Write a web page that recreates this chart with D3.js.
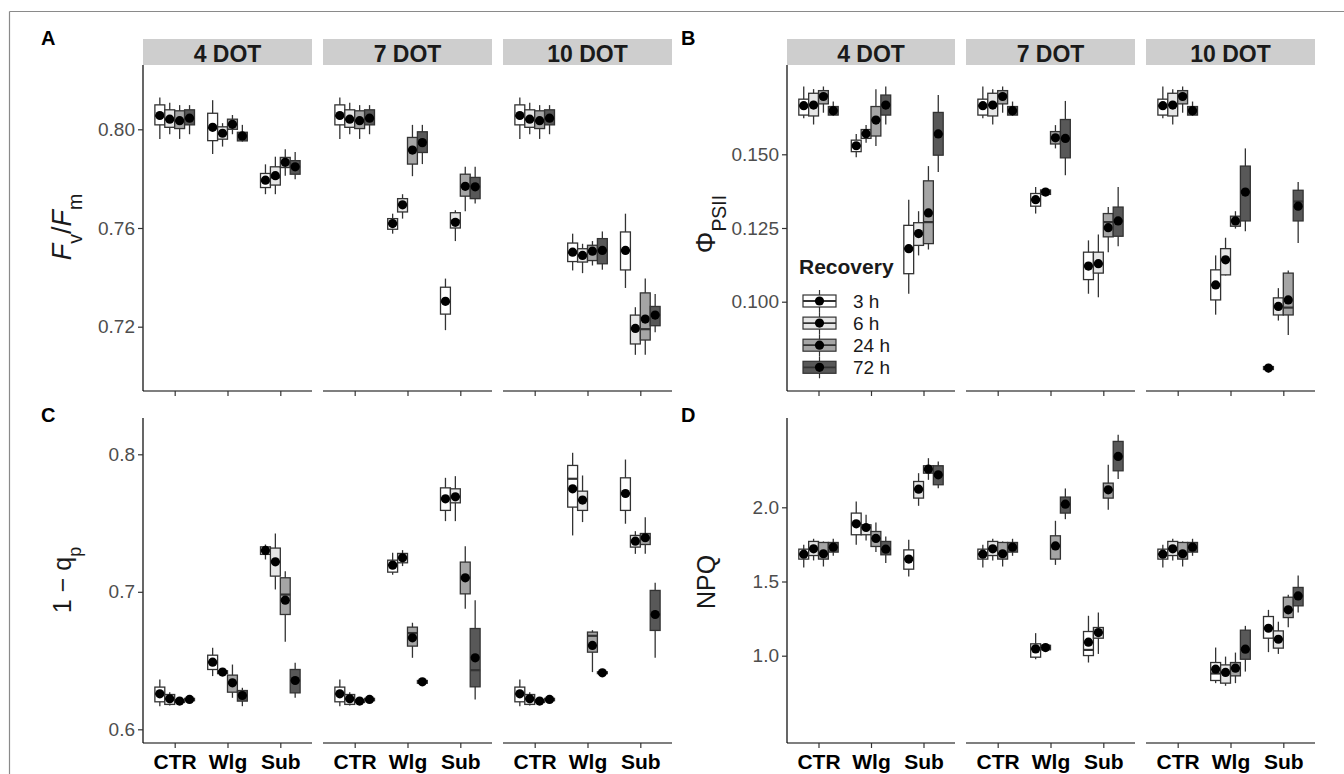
<!DOCTYPE html>
<html><head><meta charset="utf-8">
<script src="https://cdn.jsdelivr.net/npm/d3@7"></script>
<style>
body{margin:0;background:#fff;}
text{font-family:"Liberation Sans",Arial,Helvetica,sans-serif;}
</style></head>
<body>
<svg id="chart" width="1344" height="774"></svg>
<script>
// ---------- data ----------
const facets = ["4 DOT", "7 DOT", "10 DOT"];
const groups = ["CTR", "Wlg", "Sub"];
const recovery = ["3 h", "6 h", "24 h", "72 h"];
// each box: [whisker low, Q1, median, Q3, whisker high, mean]; facet -> group -> recovery
const fvfm = [
  [ [[0.7961,0.8018,0.8055,0.8099,0.8129,0.8056],[0.7980,0.8008,0.8040,0.8079,0.8108,0.8041],[0.7961,0.8003,0.8035,0.8075,0.8098,0.8035],[0.7980,0.8018,0.8045,0.8079,0.8098,0.8045]],
    [[0.7900,0.7954,0.8005,0.8065,0.8118,0.8008],[0.7930,0.7960,0.7982,0.8010,0.8025,0.7984],[0.7980,0.8000,0.8020,0.8041,0.8058,0.8020],[0.7950,0.7953,0.7972,0.7988,0.8018,0.7973]],
    [[0.7737,0.7764,0.7790,0.7821,0.7858,0.7794],[0.7737,0.7774,0.7805,0.7848,0.7889,0.7812],[0.7812,0.7845,0.7866,0.7886,0.7919,0.7866],[0.7798,0.7818,0.7848,0.7873,0.7908,0.7848]] ],
  [ [[0.7961,0.8018,0.8055,0.8099,0.8129,0.8056],[0.7980,0.8008,0.8040,0.8079,0.8108,0.8041],[0.7961,0.8003,0.8035,0.8075,0.8098,0.8035],[0.7980,0.8018,0.8045,0.8079,0.8098,0.8045]],
    [[0.7577,0.7595,0.7618,0.7638,0.7658,0.7618],[0.7638,0.7665,0.7694,0.7719,0.7737,0.7694],[0.7810,0.7859,0.7916,0.7967,0.8018,0.7916],[0.7859,0.7906,0.7950,0.7990,0.8018,0.7946]],
    [[0.7186,0.7251,0.7300,0.7360,0.7395,0.7303],[0.7547,0.7600,0.7630,0.7662,0.7672,0.7623],[0.7668,0.7729,0.7770,0.7818,0.7848,0.7769],[0.7699,0.7719,0.7767,0.7805,0.7848,0.7767]] ],
  [ [[0.7961,0.8018,0.8055,0.8099,0.8129,0.8056],[0.7980,0.8008,0.8040,0.8079,0.8108,0.8041],[0.7961,0.8003,0.8035,0.8075,0.8098,0.8035],[0.7980,0.8018,0.8045,0.8079,0.8098,0.8045]],
    [[0.7428,0.7464,0.7500,0.7539,0.7577,0.7502],[0.7417,0.7462,0.7489,0.7516,0.7536,0.7489],[0.7448,0.7468,0.7506,0.7530,0.7547,0.7506],[0.7431,0.7455,0.7509,0.7557,0.7586,0.7509]],
    [[0.7357,0.7430,0.7509,0.7584,0.7658,0.7509],[0.7086,0.7130,0.7193,0.7247,0.7279,0.7193],[0.7086,0.7146,0.7190,0.7337,0.7395,0.7231],[0.7177,0.7204,0.7247,0.7282,0.7333,0.7247]] ]
];
const phiPSII = [
  [ [[0.1622,0.1633,0.1665,0.1687,0.1730,0.1665],[0.1601,0.1630,0.1667,0.1707,0.1721,0.1667],[0.1641,0.1671,0.1700,0.1716,0.1730,0.1696],[0.1630,0.1633,0.1648,0.1662,0.1679,0.1648]],
    [[0.1490,0.1509,0.1529,0.1548,0.1569,0.1529],[0.1539,0.1554,0.1570,0.1584,0.1599,0.1570],[0.1528,0.1562,0.1616,0.1662,0.1721,0.1616],[0.1601,0.1633,0.1667,0.1701,0.1730,0.1667]],
    [[0.1027,0.1095,0.1180,0.1259,0.1346,0.1180],[0.1157,0.1191,0.1231,0.1268,0.1307,0.1231],[0.1177,0.1197,0.1270,0.1410,0.1460,0.1301],[0.1440,0.1497,0.1569,0.1642,0.1701,0.1569]] ],
  [ [[0.1622,0.1633,0.1665,0.1687,0.1730,0.1665],[0.1601,0.1630,0.1667,0.1707,0.1721,0.1667],[0.1641,0.1671,0.1700,0.1716,0.1730,0.1696],[0.1630,0.1633,0.1648,0.1662,0.1679,0.1648]],
    [[0.1299,0.1324,0.1346,0.1367,0.1389,0.1346],[0.1361,0.1364,0.1372,0.1379,0.1382,0.1372],[0.1520,0.1535,0.1556,0.1577,0.1599,0.1556],[0.1429,0.1488,0.1554,0.1618,0.1681,0.1554]],
    [[0.1027,0.1075,0.1121,0.1168,0.1208,0.1121],[0.1015,0.1097,0.1129,0.1168,0.1228,0.1129],[0.1168,0.1220,0.1270,0.1299,0.1321,0.1251],[0.1188,0.1222,0.1274,0.1321,0.1389,0.1274]] ],
  [ [[0.1622,0.1633,0.1665,0.1687,0.1730,0.1665],[0.1601,0.1630,0.1667,0.1707,0.1721,0.1667],[0.1641,0.1671,0.1700,0.1716,0.1730,0.1696],[0.1630,0.1633,0.1648,0.1662,0.1679,0.1648]],
    [[0.0956,0.1006,0.1057,0.1108,0.1157,0.1057],[0.1089,0.1091,0.1142,0.1180,0.1217,0.1142],[0.1248,0.1256,0.1274,0.1290,0.1307,0.1274],[0.1239,0.1274,0.1372,0.1460,0.1520,0.1372]],
    [[0.0760,0.0770,0.0775,0.0780,0.0789,0.0775],[0.0936,0.0955,0.0984,0.1013,0.1046,0.0984],[0.0887,0.0955,0.0980,0.1097,0.1106,0.1006],[0.1199,0.1274,0.1340,0.1378,0.1406,0.1324]] ]
];
const oneMinusQp = [
  [ [[0.6168,0.6200,0.6258,0.6307,0.6362,0.6258],[0.6173,0.6181,0.6222,0.6253,0.6270,0.6222],[0.6190,0.6195,0.6205,0.6215,0.6220,0.6205],[0.6205,0.6208,0.6217,0.6225,0.6230,0.6217]],
    [[0.6387,0.6435,0.6488,0.6539,0.6593,0.6488],[0.6400,0.6405,0.6416,0.6426,0.6430,0.6416],[0.6229,0.6270,0.6338,0.6394,0.6471,0.6338],[0.6168,0.6205,0.6246,0.6282,0.6302,0.6246]],
    [[0.7235,0.7272,0.7301,0.7327,0.7344,0.7301],[0.7017,0.7114,0.7218,0.7318,0.7424,0.7218],[0.6636,0.6835,0.6980,0.7102,0.7150,0.6939],[0.6229,0.6265,0.6355,0.6435,0.6484,0.6355]] ],
  [ [[0.6168,0.6200,0.6258,0.6307,0.6362,0.6258],[0.6173,0.6181,0.6222,0.6253,0.6270,0.6222],[0.6190,0.6195,0.6205,0.6215,0.6220,0.6205],[0.6205,0.6208,0.6217,0.6225,0.6230,0.6217]],
    [[0.7124,0.7143,0.7194,0.7230,0.7284,0.7194],[0.7187,0.7211,0.7247,0.7279,0.7303,0.7247],[0.6520,0.6605,0.6700,0.6743,0.6775,0.6665],[0.6330,0.6335,0.6345,0.6355,0.6360,0.6345]],
    [[0.7514,0.7592,0.7676,0.7756,0.7829,0.7676],[0.7514,0.7647,0.7691,0.7749,0.7841,0.7691],[0.6876,0.6985,0.7102,0.7216,0.7332,0.7102],[0.6217,0.6309,0.6430,0.6733,0.6939,0.6520]] ],
  [ [[0.6168,0.6200,0.6258,0.6307,0.6362,0.6258],[0.6173,0.6181,0.6222,0.6253,0.6270,0.6222],[0.6190,0.6195,0.6205,0.6215,0.6220,0.6205],[0.6205,0.6208,0.6217,0.6225,0.6230,0.6217]],
    [[0.7410,0.7616,0.7822,0.7919,0.8011,0.7749],[0.7507,0.7592,0.7667,0.7732,0.7846,0.7667],[0.6416,0.6561,0.6680,0.6707,0.6721,0.6610],[0.6400,0.6405,0.6411,0.6418,0.6422,0.6411]],
    [[0.7495,0.7592,0.7715,0.7829,0.7962,0.7715],[0.7276,0.7325,0.7368,0.7410,0.7441,0.7368],[0.7276,0.7344,0.7393,0.7424,0.7543,0.7393],[0.6520,0.6719,0.6835,0.7010,0.7065,0.6835]] ]
];
const npq = [
  [ [[1.594,1.651,1.684,1.718,1.747,1.684],[1.642,1.675,1.720,1.770,1.788,1.720],[1.601,1.651,1.687,1.763,1.770,1.687],[1.673,1.698,1.731,1.763,1.788,1.731]],
    [[1.747,1.815,1.889,1.961,2.039,1.889],[1.776,1.815,1.864,1.882,1.949,1.864],[1.698,1.736,1.790,1.837,1.898,1.790],[1.624,1.680,1.718,1.770,1.803,1.718]],
    [[1.534,1.583,1.651,1.713,1.781,1.651],[2.010,2.062,2.122,2.174,2.230,2.122],[2.185,2.230,2.257,2.280,2.331,2.257],[2.129,2.152,2.219,2.280,2.309,2.219]] ],
  [ [[1.594,1.651,1.684,1.718,1.747,1.684],[1.642,1.675,1.720,1.770,1.788,1.720],[1.601,1.651,1.687,1.763,1.770,1.687],[1.673,1.698,1.731,1.763,1.788,1.731]],
    [[0.976,0.990,1.046,1.080,1.152,1.046],[1.035,1.040,1.055,1.070,1.075,1.055],[1.612,1.651,1.740,1.808,1.909,1.740],[1.920,1.961,2.021,2.069,2.127,2.021]],
    [[0.954,1.001,1.039,1.163,1.269,1.091],[1.012,1.118,1.156,1.190,1.291,1.156],[1.983,2.062,2.118,2.163,2.287,2.118],[2.190,2.246,2.343,2.444,2.489,2.343]] ],
  [ [[1.594,1.651,1.684,1.718,1.747,1.684],[1.642,1.675,1.720,1.770,1.788,1.720],[1.601,1.651,1.687,1.763,1.770,1.687],[1.673,1.698,1.731,1.763,1.788,1.731]],
    [[0.815,0.833,0.880,0.954,1.055,0.909],[0.797,0.815,0.887,0.938,0.994,0.887],[0.815,0.864,0.916,0.954,1.021,0.916],[0.893,0.976,1.044,1.172,1.201,1.044]],
    [[1.024,1.118,1.185,1.264,1.309,1.185],[1.012,1.051,1.111,1.167,1.229,1.111],[1.192,1.257,1.309,1.394,1.410,1.309],[1.291,1.336,1.403,1.460,1.540,1.403]] ]
];
const ticksA = [0.72, 0.76, 0.80];
const ticksB = [0.100, 0.125, 0.150];
const ticksC = [0.6, 0.7, 0.8];
const ticksD = [1.0, 1.5, 2.0];

// ---------- styles / layout ----------
const fills = ["#ffffff", "#e6e6e6", "#a5a5a5", "#585858"];
const leftX = [[143, 312], [323, 492], [503, 672]];
const rightX = [[787, 955], [966, 1135], [1146, 1315]];
const topY = [65, 391], botY = [418, 743];

const panels = [
  {label:"A", data:fvfm, xs:leftX, ys:topY, dom:[0.69394, 0.82606], ticks:ticksA, fmt:".2f", strips:true, xlab:false, lx:41, ly:45},
  {label:"B", data:phiPSII, xs:rightX, ys:topY, dom:[0.06971, 0.18029], ticks:ticksB, fmt:".3f", strips:true, xlab:false, lx:681, ly:45},
  {label:"C", data:oneMinusQp, xs:leftX, ys:botY, dom:[0.59004, 0.82640], ticks:ticksC, fmt:".1f", strips:false, xlab:true, lx:41, ly:422},
  {label:"D", data:npq, xs:rightX, ys:botY, dom:[0.4117, 2.6018], ticks:ticksD, fmt:".1f", strips:false, xlab:true, lx:681, ly:422}
];

const svg = d3.select("#chart");
// outer frame
svg.append("line").attr("x1",9.5).attr("x2",1344).attr("y1",11.5).attr("y2",11.5).attr("stroke","#8a8a8a").attr("stroke-width",1.2);
svg.append("line").attr("x1",9.5).attr("x2",9.5).attr("y1",11.5).attr("y2",774).attr("stroke","#8a8a8a").attr("stroke-width",1.2);

panels.forEach(p => {
  const y = d3.scaleLinear().domain(p.dom).range([p.ys[1], p.ys[0]]);
  svg.append("text").attr("x", p.lx).attr("y", p.ly).attr("font-size", 20).attr("font-weight", "bold").text(p.label);

  facets.forEach((fname, fi) => {
    const [x0, x1] = p.xs[fi];
    const x = d3.scalePoint().domain(groups).range([x0, x1]).padding(0.6);
    const step = x.step();
    const dodge = d3.scaleBand().domain(recovery).range([-0.375 * step, 0.375 * step]);
    const bw = dodge.bandwidth();
    const g = svg.append("g");

    if (p.strips) {
      g.append("rect").attr("x", x0).attr("y", 39).attr("width", x1 - x0).attr("height", p.ys[0] - 39).attr("fill", "#cecece");
      g.append("text").attr("x", (x0 + x1) / 2).attr("y", 61.5).attr("text-anchor", "middle")
        .attr("font-size", 23).attr("font-weight", "bold").attr("fill", "#1a1a1a").text(fname);
    }

    // boxes
    groups.forEach((grp, gi) => {
      recovery.forEach((rec, ri) => {
        const s = p.data[fi][gi][ri];
        const cx = x(grp) + dodge(rec) + bw / 2;
        const bg = g.append("g");
        bg.append("line").attr("x1", cx).attr("x2", cx).attr("y1", y(s[0])).attr("y2", y(s[4]))
          .attr("stroke", "#333").attr("stroke-width", 1.3);
        bg.append("rect").attr("x", cx - bw / 2).attr("y", y(s[3])).attr("width", bw)
          .attr("height", Math.max(1, y(s[1]) - y(s[3]))).attr("fill", fills[ri])
          .attr("stroke", "#333").attr("stroke-width", 1.3);
        bg.append("line").attr("x1", cx - bw / 2).attr("x2", cx + bw / 2).attr("y1", y(s[2])).attr("y2", y(s[2]))
          .attr("stroke", "#333").attr("stroke-width", 2.2);
        bg.append("circle").attr("cx", cx).attr("cy", y(s[5])).attr("r", 4.6).attr("fill", "#000");
      });
    });

    // x axis
    const xa = g.append("g").attr("transform", `translate(0,${p.ys[1]})`)
      .call(d3.axisBottom(x).tickSize(5).tickPadding(6).tickSizeOuter(0));
    xa.select(".domain").attr("d", `M${x0},0H${x1}`).attr("stroke", "#000").attr("stroke-width", 1.2);
    xa.selectAll(".tick line").attr("stroke", "#333").attr("stroke-width", 1.2);
    if (p.xlab) {
      xa.selectAll(".tick text").attr("font-size", 21).attr("font-weight", "bold").attr("fill", "#000")
        .attr("font-family", "Liberation Sans, Arial, sans-serif");
    } else {
      xa.selectAll(".tick text").remove();
    }

    // y axis on first facet only
    if (fi === 0) {
      const ya = g.append("g").attr("transform", `translate(${x0},0)`)
        .call(d3.axisLeft(y).tickValues(p.ticks).tickFormat(d3.format(p.fmt)).tickSize(5).tickPadding(3).tickSizeOuter(0));
      ya.select(".domain").attr("d", `M0,${p.ys[0]}V${p.ys[1]}`).attr("stroke", "#000").attr("stroke-width", 1.2);
      ya.selectAll(".tick line").attr("stroke", "#333").attr("stroke-width", 1.2);
      ya.selectAll(".tick text").attr("font-size", 19).attr("fill", "#4d4d4d")
        .attr("font-family", "Liberation Sans, Arial, sans-serif");
    }
  });
});

// y-axis titles
function ytitle(cx, cy, parts, size) {
  const t = svg.append("text").attr("transform", `translate(${cx},${cy}) rotate(-90)`)
    .attr("text-anchor", "middle").attr("font-size", size).attr("fill", "#1a1a1a").attr("dy", "0.35em");
  parts.forEach(pt => {
    const ts = t.append("tspan").text(pt.t);
    if (pt.i) ts.attr("font-style", "italic");
    if (pt.sub) ts.attr("font-size", size * 0.72).attr("baseline-shift", "sub");
  });
}
ytitle(62, 227, [{t:"F", i:true}, {t:"v", sub:true}, {t:"/", i:false}, {t:"F", i:true}, {t:"m", sub:true}], 27);
ytitle(706, 224, [{t:"Φ"}, {t:"PSII", sub:true}], 27);
ytitle(62, 580, [{t:"1 − q"}, {t:"p", sub:true}], 25);
ytitle(706, 582, [{t:"NPQ"}], 25);

// legend (inside panel B)
const lg = svg.append("g");
lg.append("text").attr("x", 799).attr("y", 274).attr("font-size", 21).attr("font-weight", "bold").attr("fill", "#1a1a1a").text("Recovery");
const legY = d3.scalePoint().domain(recovery).range([301, 367.3]);
recovery.forEach((r, i) => {
  const cy = legY(r), cx = 819.5;
  lg.append("line").attr("x1", cx).attr("x2", cx).attr("y1", cy - 11).attr("y2", cy + 11).attr("stroke", "#333").attr("stroke-width", 1.2);
  lg.append("rect").attr("x", 803).attr("y", cy - 6).attr("width", 33).attr("height", 12)
    .attr("fill", fills[i]).attr("stroke", "#333").attr("stroke-width", 1.2);
  lg.append("line").attr("x1", 803).attr("x2", 836).attr("y1", cy).attr("y2", cy).attr("stroke", "#333").attr("stroke-width", 1.8);
  lg.append("circle").attr("cx", cx).attr("cy", cy).attr("r", 4.6).attr("fill", "#000");
  lg.append("text").attr("x", 853).attr("y", cy + 7).attr("font-size", 19).attr("fill", "#1a1a1a").text(r);
});
</script>
</body></html>
